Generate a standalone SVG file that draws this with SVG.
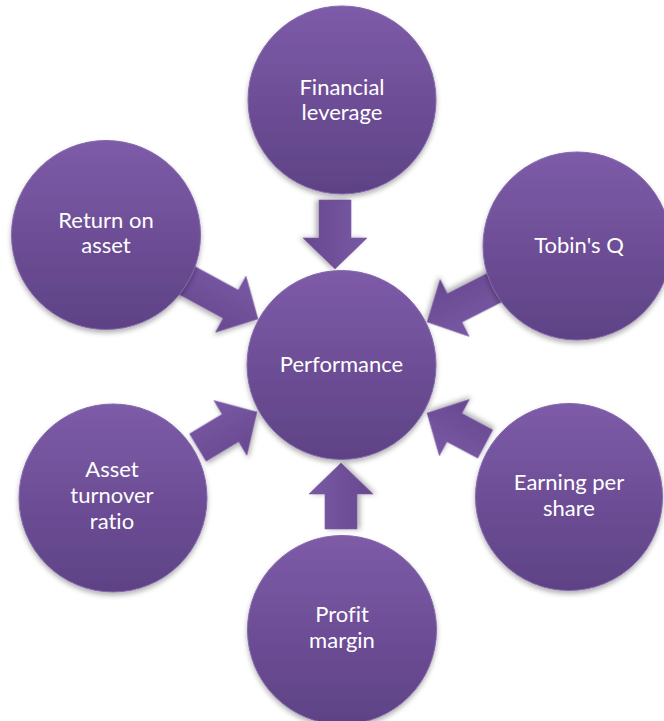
<svg xmlns="http://www.w3.org/2000/svg" width="664" height="721" viewBox="0 0 664 721">
  <defs>
    <linearGradient id="gCircle" x1="0" y1="0" x2="0" y2="1">
      <stop offset="0" stop-color="#7d5ba8"/>
      <stop offset="1" stop-color="#5e4285"/>
    </linearGradient>
    <linearGradient id="gArrow" x1="0" y1="0" x2="0" y2="1">
      <stop offset="0" stop-color="#7858a4"/>
      <stop offset="1" stop-color="#68498f"/>
    </linearGradient>
    <filter id="shadow" x="-20%" y="-20%" width="140%" height="150%">
      <feDropShadow dx="0" dy="3" stdDeviation="2.5" flood-color="#000" flood-opacity="0.3"/>
    </filter>
  </defs>
  <style>
    .node circle { fill: url(#gCircle); stroke: #8468ac; stroke-width: 1; filter: url(#shadow); }
    .arrow { fill: url(#gArrow); stroke: #7a5ba4; stroke-width: 0.6; filter: url(#shadow); }
    .label { font-family: Lato, "Liberation Sans", sans-serif; font-size: 22px; fill: #ffffff; text-anchor: middle; font-variant-ligatures: none; }
  </style>

  <g id="connectors">
    <polygon class="arrow" transform="translate(335,269) rotate(90)" points="-69,-16 -31,-16 -31,-32 0,0 -31,32 -31,16 -69,16"/>
    <polygon class="arrow" transform="translate(341,463) rotate(-90)" points="-66,-16 -31,-16 -31,-32 0,0 -31,32 -31,16 -66,16"/>
    <polygon class="arrow" transform="translate(258,319) rotate(28.5)" points="-82,-16 -31,-16 -31,-32 0,0 -31,32 -31,16 -82,16"/>
    <polygon class="arrow" transform="translate(427,322) rotate(153)" points="-76,-16 -31,-16 -31,-32 0,0 -31,32 -31,16 -76,16"/>
    <polygon class="arrow" transform="translate(427,413) rotate(208)" points="-66,-16 -31,-16 -31,-32 0,0 -31,32 -31,16 -66,16"/>
    <polygon class="arrow" transform="translate(257,412) rotate(-31)" points="-69,-16 -31,-16 -31,-32 0,0 -31,32 -31,16 -69,16"/>
  </g>

  <g id="node-performance" class="node">
    <circle cx="341.5" cy="365" r="94.5"/>
    <text class="label" x="341.5" y="372">Performance</text>
  </g>
  <g id="node-financial-leverage" class="node">
    <circle cx="342" cy="100" r="94"/>
    <text class="label" x="342" y="95">Financial</text>
    <text class="label" x="342" y="120">leverage</text>
  </g>
  <g id="node-tobins-q" class="node">
    <circle cx="577" cy="246" r="94"/>
    <text class="label" x="579" y="253">Tobin's Q</text>
  </g>
  <g id="node-earning-per-share" class="node">
    <circle cx="569" cy="497" r="93.5"/>
    <text class="label" x="569" y="490">Earning per</text>
    <text class="label" x="569" y="516">share</text>
  </g>
  <g id="node-profit-margin" class="node">
    <circle cx="342" cy="630" r="94.5"/>
    <text class="label" x="342" y="622">Profit</text>
    <text class="label" x="342" y="648">margin</text>
  </g>
  <g id="node-asset-turnover-ratio" class="node">
    <circle cx="113" cy="498" r="94"/>
    <text class="label" x="112" y="477">Asset</text>
    <text class="label" x="112" y="503">turnover</text>
    <text class="label" x="112" y="529">ratio</text>
  </g>
  <g id="node-return-on-asset" class="node">
    <circle cx="106" cy="235" r="94.5"/>
    <text class="label" x="106" y="228">Return on</text>
    <text class="label" x="106" y="253">asset</text>
  </g>
</svg>
